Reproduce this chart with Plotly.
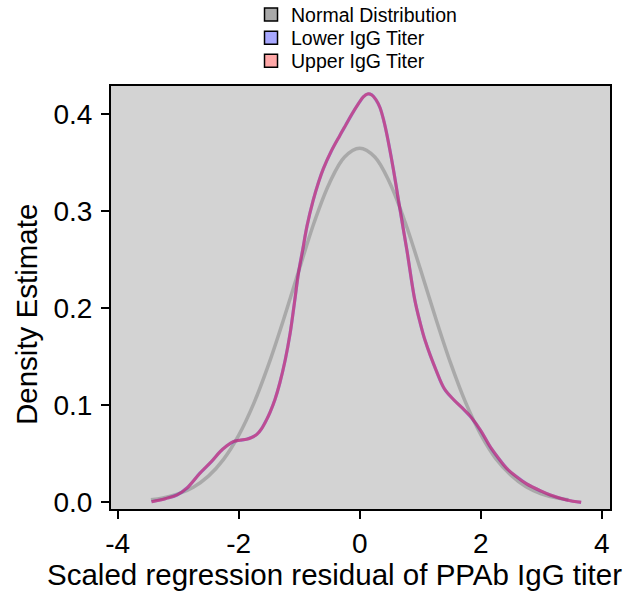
import plotly.graph_objects as go

# ---- data ----
normal_x = [-3.45, -3.25, -3.0, -2.75, -2.5, -2.25, -2.0, -1.75, -1.5, -1.25, -1.0, -0.75, -0.5, -0.25,
            0.0, 0.25, 0.5, 0.75, 1.0, 1.25, 1.5, 1.75, 2.0, 2.25, 2.5, 2.75, 3.0, 3.25, 3.45]
normal_y = [0.0026, 0.0045, 0.0086, 0.0156, 0.027, 0.0443, 0.069, 0.102, 0.143, 0.190, 0.240, 0.289, 0.329, 0.356,
            0.365, 0.356, 0.329, 0.289, 0.241, 0.191, 0.144, 0.103, 0.070, 0.045, 0.028, 0.016, 0.0088, 0.0046, 0.0027]

kde_x = [-3.44, -3.2, -3.02, -2.85, -2.64, -2.45, -2.31, -2.2, -2.09, -1.98, -1.87, -1.78, -1.7, -1.62,
         -1.54, -1.48, -1.4, -1.32, -1.23, -1.15, -1.08, -1.01, -0.94, -0.87, -0.77, -0.68, -0.6, -0.47,
         -0.33, -0.23, -0.13, -0.02, 0.06, 0.13, 0.2, 0.27, 0.335, 0.4, 0.45, 0.555, 0.64, 0.69, 0.78,
         0.91, 1.0, 1.08, 1.27, 1.4, 1.55, 1.7, 1.85, 2.0, 2.15, 2.3, 2.43, 2.6, 2.76, 3.0, 3.15, 3.42, 3.66]
lower_density = [0.0006, 0.004, 0.0075, 0.015, 0.030, 0.042, 0.052, 0.058, 0.0625, 0.064, 0.065, 0.067, 0.070, 0.076,
                 0.085, 0.093, 0.106, 0.123, 0.147, 0.174, 0.205, 0.237, 0.261, 0.285, 0.311, 0.330, 0.344, 0.362,
                 0.378, 0.389, 0.400, 0.411, 0.418, 0.421, 0.420, 0.415, 0.407, 0.393, 0.379, 0.344, 0.312, 0.293, 0.260,
                 0.209, 0.185, 0.167, 0.135, 0.117, 0.106, 0.097, 0.087, 0.074, 0.058, 0.045, 0.035, 0.026, 0.019, 0.0115, 0.0075, 0.0024, 0.0]
upper_density = [0.0006, 0.004, 0.0075, 0.015, 0.030, 0.042, 0.052, 0.058, 0.0625, 0.064, 0.065, 0.067, 0.070, 0.076,
                 0.085, 0.093, 0.106, 0.123, 0.147, 0.174, 0.205, 0.237, 0.261, 0.285, 0.311, 0.330, 0.344, 0.362,
                 0.378, 0.389, 0.400, 0.411, 0.418, 0.421, 0.420, 0.415, 0.407, 0.393, 0.379, 0.344, 0.312, 0.293, 0.260,
                 0.209, 0.185, 0.167, 0.135, 0.117, 0.106, 0.097, 0.087, 0.074, 0.058, 0.045, 0.035, 0.026, 0.019, 0.0115, 0.0075, 0.0024, 0.0]

series_names = ["Normal Distribution", "Lower IgG Titer", "Upper IgG Titer"]
legend_colors = ["#a9a9a9", "#a8a8ff", "#ffa8a8"]

x_tickvals = [-4, -2, 0, 2, 4]
x_ticktext = ["-4", "-2", "0", "2", "4"]
y_tickvals = [0.0, 0.1, 0.2, 0.3, 0.4]
y_ticktext = ["0.0", "0.1", "0.2", "0.3", "0.4"]

x_title = "Scaled regression residual of PPAb IgG titer"
y_title = "Density Estimate"

FONT = "Liberation Sans, Arial, sans-serif"

fig = go.Figure()

# curves (legend handled by patch traces below)
fig.add_trace(go.Scatter(x=normal_x, y=normal_y, mode="lines", line=dict(color="rgba(128,128,128,0.5)", width=3.5, shape="spline", smoothing=1.0),
                         showlegend=False, hoverinfo="skip"))
fig.add_trace(go.Scatter(x=kde_x, y=lower_density, mode="lines", line=dict(color="rgba(40,40,255,0.5)", width=3.2, shape="spline", smoothing=1.0),
                         showlegend=False))
fig.add_trace(go.Scatter(x=kde_x, y=upper_density, mode="lines", line=dict(color="rgba(255,30,60,0.5)", width=3.0, shape="spline", smoothing=1.0),
                         showlegend=False))

# legend patches, one legend box per row
legend_ids = ["legend", "legend2", "legend3"]
legend_y = [1.2144, 1.1596, 1.1052]
for name, col, lid in zip(series_names, legend_colors, legend_ids):
    fig.add_trace(go.Scatter(x=[None], y=[None], mode="markers", name=name, legend=lid,
                             marker=dict(symbol="square", size=13, color=col, line=dict(color="black", width=1.5))))

leg_common = dict(x=0.2806, xanchor="left", yanchor="top", bgcolor="rgba(0,0,0,0)",
                  font=dict(size=19.5, family=FONT, color="black"), itemsizing="trace")

fig.update_layout(
    width=637, height=591,
    margin=dict(l=111, r=27, t=86, b=82, autoexpand=False),
    paper_bgcolor="white",
    plot_bgcolor="#d3d3d3",
    font=dict(family=FONT, color="black"),
    showlegend=True,
    legend=dict(y=legend_y[0], **leg_common),
    legend2=dict(y=legend_y[1], **leg_common),
    legend3=dict(y=legend_y[2], **leg_common),
)
fig.update_xaxes(range=[-4.11, 4.137], tickvals=x_tickvals, ticktext=x_ticktext, showgrid=False, zeroline=False,
                 showline=True, linecolor="black", linewidth=2, mirror=True,
                 ticks="outside", ticklen=8, tickwidth=1.5, tickcolor="black",
                 tickfont=dict(size=28, family=FONT))
fig.update_yaxes(range=[-0.0069, 0.4292], tickvals=y_tickvals, ticktext=y_ticktext, showgrid=False, zeroline=False,
                 showline=True, linecolor="black", linewidth=2, mirror=True,
                 ticks="outside", ticklen=8, tickwidth=1.5, tickcolor="black", ticklabelstandoff=3,
                 tickfont=dict(size=28, family=FONT))

# axis titles
fig.add_annotation(text=x_title, xref="paper", yref="paper", x=0.447, y=-0.1537, xanchor="center", yanchor="middle",
                   showarrow=False, font=dict(size=29.5, family=FONT, color="black"))
fig.add_annotation(text=y_title, xref="paper", yref="paper", x=-0.1703, y=0.4586, xanchor="center", yanchor="middle",
                   textangle=-90, showarrow=False, font=dict(size=29.5, family=FONT, color="black"))

fig.write_html("out.html", config={"displayModeBar": False},
               post_script="document.body.style.margin='0px';")
